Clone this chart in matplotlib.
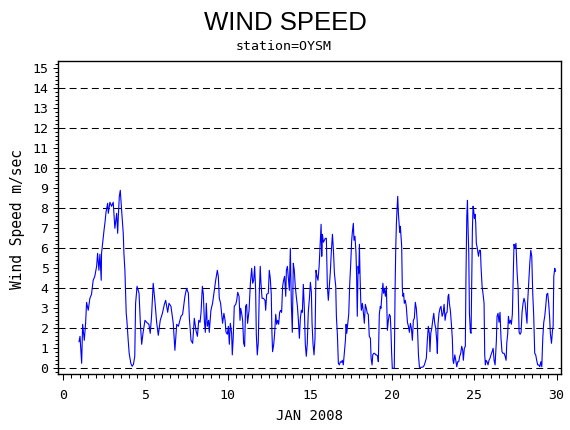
import matplotlib
matplotlib.use("Agg")
import matplotlib.pyplot as plt
from matplotlib.ticker import MultipleLocator

# ---- data (day of month, wind speed m/s) ----
day = [
    0.96, 1.02, 1.12, 1.18, 1.28, 1.36, 1.42, 1.52, 1.62, 1.72, 1.82, 1.92, 2.03, 2.09,
    2.17, 2.23, 2.31, 2.33, 2.40, 2.48, 2.54, 2.60, 2.70, 2.74, 2.84, 2.94, 3.04, 3.14,
    3.25, 3.31, 3.35, 3.41, 3.47, 3.55, 3.65, 3.69, 3.75, 3.79, 3.83, 3.87, 3.95, 4.01,
    4.11, 4.19, 4.27, 4.35, 4.40, 4.49, 4.61, 4.69, 4.77, 4.85, 4.97, 5.07, 5.21, 5.29,
    5.37, 5.47, 5.57, 5.68, 5.78, 5.90, 6.03, 6.15, 6.23, 6.35, 6.43, 6.55, 6.69, 6.79,
    6.90, 7.00, 7.16, 7.26,
    7.40, 7.50, 7.61, 7.67, 7.77, 7.87, 7.97, 8.07, 8.16, 8.24, 8.32, 8.38, 8.46, 8.52,
    8.58, 8.64, 8.70, 8.76, 8.84, 8.88, 8.98, 9.08, 9.16, 9.27, 9.37, 9.43, 9.49,
    9.57, 9.63, 9.69, 9.77, 9.84, 9.90, 9.98, 10.04, 10.10, 10.16, 10.24, 10.28, 10.34,
    10.40, 10.49, 10.55, 10.61, 10.69, 10.75, 10.79, 10.85, 10.91, 10.97, 11.03, 11.09,
    11.15, 11.21, 11.30, 11.38, 11.46, 11.52, 11.58, 11.64, 11.70, 11.74, 11.80, 11.86,
    11.92, 11.98, 12.02, 12.09, 12.17, 12.27, 12.31, 12.37, 12.47, 12.53, 12.59, 12.65,
    12.69, 12.73, 12.80, 12.86, 12.92, 12.98, 13.04, 13.10, 13.16, 13.22, 13.28, 13.34,
    13.40, 13.46, 13.53, 13.57, 13.63, 13.69, 13.75, 13.81, 13.87, 13.93, 13.99, 14.05,
    14.11, 14.17, 14.24, 14.30, 14.36, 14.42, 14.48, 14.54, 14.60, 14.66, 14.72, 14.78,
    14.84, 14.90, 14.97, 15.03, 15.09, 15.13, 15.19, 15.25, 15.31, 15.37, 15.43, 15.49,
    15.56, 15.62, 15.68, 15.72, 15.76, 15.82, 15.88, 15.94, 16.00, 16.06, 16.12, 16.18,
    16.24, 16.30, 16.37, 16.43, 16.49,
    16.57, 16.61, 16.67, 16.73, 16.79, 16.85, 16.91, 16.97, 17.03, 17.09, 17.16, 17.20,
    17.24, 17.30, 17.36, 17.42, 17.48, 17.54, 17.58, 17.64, 17.68, 17.74, 17.80, 17.84,
    17.88, 17.93, 17.97, 18.01, 18.05, 18.09, 18.13, 18.19, 18.25, 18.31, 18.37, 18.43,
    18.49, 18.55, 18.61, 18.68, 18.72, 18.78, 18.82, 18.88, 18.94, 19.00, 19.06, 19.12,
    19.16, 19.22, 19.28, 19.32, 19.38, 19.44, 19.48, 19.53, 19.59, 19.65, 19.71, 19.77,
    19.83, 19.89, 19.93, 19.97, 20.01, 20.07, 20.13, 20.18, 20.22, 20.26, 20.30, 20.34,
    20.38, 20.42, 20.46, 20.50, 20.54, 20.58, 20.62, 20.66, 20.70, 20.74, 20.80, 20.86,
    20.93, 20.99, 21.05, 21.11, 21.17, 21.23, 21.29, 21.35, 21.41, 21.47, 21.53, 21.60,
    21.66, 21.74, 21.82, 21.90, 21.96, 22.02, 22.08, 22.14, 22.20, 22.26, 22.30, 22.35,
    22.41, 22.47, 22.53, 22.59, 22.65, 22.71, 22.75, 22.79, 22.85, 22.91, 22.97, 23.04,
    23.10, 23.16, 23.22, 23.28, 23.34, 23.40, 23.44, 23.48,
    23.54, 23.60, 23.66, 23.70, 23.74, 23.81, 23.87, 23.93, 23.99, 24.05, 24.11, 24.17,
    24.23, 24.29, 24.33, 24.39, 24.45, 24.49, 24.54, 24.58, 24.62, 24.66, 24.70, 24.76,
    24.80, 24.84, 24.88, 24.92, 24.96, 25.00, 25.04, 25.08, 25.12, 25.18, 25.25, 25.31,
    25.37, 25.41, 25.47, 25.53, 25.59, 25.63, 25.67, 25.71, 25.77, 25.83, 25.89, 25.95,
    26.01, 26.08, 26.14, 26.20, 26.26, 26.30, 26.34, 26.38, 26.44, 26.50, 26.56, 26.62,
    26.68, 26.74, 26.81, 26.87, 26.93, 26.97, 27.03, 27.07, 27.13, 27.19, 27.25, 27.31,
    27.35, 27.41, 27.47, 27.53, 27.60, 27.66, 27.72, 27.78, 27.84, 27.90, 27.96, 28.02,
    28.08, 28.14, 28.20, 28.24, 28.31, 28.37, 28.43, 28.49, 28.55, 28.61, 28.67, 28.73,
    28.79, 28.85, 28.91, 28.98, 29.04, 29.10, 29.16, 29.22, 29.28, 29.34, 29.40, 29.46,
    29.52, 29.58, 29.62, 29.69, 29.75, 29.79, 29.83, 29.89, 29.93,
]
speed = [
    1.33, 1.6, 0.25, 2.2, 1.4, 2.25, 3.3, 2.9, 3.5, 3.7, 4.4, 4.6, 5.1, 5.75,
    4.9, 5.7, 4.4, 5.75, 6.3, 6.9, 7.3, 7.8, 8.25, 7.75, 8.3, 8.1, 8.3, 7.0,
    7.75, 6.75, 7.6, 8.6, 8.9, 7.9, 6.75, 5.75, 4.9, 3.9, 2.75, 2.4, 1.4, 0.75,
    0.25, 0.1, 0.2, 0.6, 3.25, 4.1, 3.75, 2.25, 1.2, 1.75, 2.4, 2.3, 2.2, 1.75,
    2.6, 4.25, 3.4, 2.3, 1.65, 2.4, 2.75, 3.2, 3.4, 2.8, 3.25, 3.1, 2.25, 0.9,
    2.2, 2.1, 2.6, 2.7,
    3.6, 4.0, 3.75, 2.5, 1.4, 1.25, 2.5, 1.9, 1.6, 2.4, 2.3, 2.8, 4.1, 3.7,
    2.4, 1.8, 3.25, 2.1, 2.4, 1.8, 2.9, 3.25, 3.75, 4.4, 4.9, 4.6, 3.5,
    3.25, 2.75, 2.25, 2.75, 2.4, 1.8, 1.7, 2.1, 1.2, 2.25, 1.75, 0.67, 1.6,
    3.1, 3.2, 3.4, 3.8, 3.6, 2.4, 3.0, 2.75, 2.4, 1.25, 1.1, 3.1,
    3.2, 2.25, 2.9, 4.25, 5.0, 4.25, 4.4, 5.1, 3.9, 1.7, 0.67, 1.3,
    3.7, 5.1, 4.3, 3.5, 3.5, 3.4, 2.9, 3.7, 3.75, 4.9, 4.5, 3.7,
    1.8, 0.83, 1.2, 1.8, 2.7, 2.2, 2.4, 2.2, 2.8, 2.9, 2.8, 4.1,
    4.4, 4.6, 3.6, 4.9, 5.1, 4.5, 3.9, 6.0, 3.25, 1.8, 5.25, 4.9,
    4.1, 3.6, 3.1, 2.4, 1.5, 2.5, 2.9, 2.8, 4.2, 3.0, 1.2, 0.6,
    1.25, 2.8, 3.5, 4.3, 3.8, 2.25, 1.2, 0.67, 1.5, 4.9, 4.6, 4.4,
    5.1, 6.1, 7.2, 5.6, 6.7, 6.3, 6.4, 6.5, 6.5, 4.1, 3.4, 4.1,
    4.8, 5.8, 6.7, 5.9, 4.75,
    4.1, 2.6, 1.7, 0.25, 0.17, 0.33, 0.3, 0.4, 0.17, 0.75, 1.4, 2.2,
    1.75, 2.2, 2.7, 4.2, 5.2, 6.4, 6.8, 7.25, 6.4, 6.6, 5.8, 4.6,
    2.6, 5.1, 4.75, 6.2, 4.6, 3.4, 2.9, 3.25, 2.8, 2.25, 3.2, 3.0,
    2.75, 2.7, 1.6, 1.5, 0.5, 0.17, 0.67, 0.75, 0.75, 0.67, 0.67, 0.6,
    0.33, 2.7, 3.1, 3.0, 3.7, 4.25, 3.75, 4.0, 3.6, 4.1, 1.9, 2.4,
    2.7, 2.6, 1.8, 0.75, 0.0, 0.0, 0.0, 4.0, 6.0, 7.25, 8.0, 8.6,
    7.75, 7.3, 6.8, 7.1, 6.6, 6.1, 4.0, 3.6, 3.75, 3.25, 3.4, 3.1,
    2.3, 2.1, 1.8, 2.25, 2.0, 1.4, 2.4, 2.5, 3.3, 3.0, 2.3, 0.67,
    0.05, 0.05, 0.05, 0.08, 0.17, 0.33, 0.5, 1.4, 2.1, 1.75, 0.83, 1.75,
    2.0, 2.4, 2.75, 2.25, 2.0, 1.4, 0.75, 2.2, 2.75, 3.0, 3.1, 2.6,
    2.75, 3.2, 2.4, 2.75, 2.8, 3.6, 3.7, 3.25,
    2.9, 2.25, 1.5, 0.4, 0.25, 0.67, 0.4, 0.08, 0.33, 0.33, 0.6, 0.75,
    1.1, 0.9, 0.4, 1.0, 1.1, 4.6, 7.6, 8.4, 6.9, 5.75, 2.75, 1.8,
    1.75, 4.4, 6.9, 8.1, 7.9, 7.5, 7.7, 7.3, 6.25, 6.0, 5.6, 5.9,
    5.9, 5.0, 4.1, 3.7, 3.25, 0.67, 0.17, 0.4, 0.33, 0.17, 0.4, 0.5,
    0.67, 0.83, 1.0, 0.4, 0.17, 0.75, 1.4, 2.6, 2.75, 2.3, 2.8, 1.5,
    0.83, 0.75, 0.75, 0.6, 0.4, 1.25, 1.75, 2.6, 2.25, 2.4, 2.2, 2.7,
    4.1, 6.2, 6.0, 6.25, 4.75, 4.0, 1.8, 1.7, 1.8, 2.8, 3.25, 3.5,
    3.3, 2.75, 2.25, 3.3, 4.4, 5.25, 5.9, 5.6, 3.75, 2.6, 0.75, 0.67,
    0.4, 0.17, 0.17, 0.08, 0.33, 0.08, 1.5, 2.3, 2.6, 3.1, 3.7, 3.75,
    3.25, 2.5, 1.75, 1.25, 1.9, 2.1, 4.6, 5.0, 4.85,
]

x_ticks = [0, 5, 10, 15, 20, 25, 30]
y_ticks = list(range(0, 16))
grid_levels = [0, 2, 4, 6, 8, 10, 12, 14]

title = "WIND SPEED"
subtitle = "station=OYSM"
x_label = "JAN 2008"
y_label = "Wind Speed m/sec"

# ---- figure ----
plt.rcParams["lines.scale_dashes"] = False
W, H = 570, 430
fig = plt.figure(figsize=(W / 100, H / 100), dpi=100)
fig.patch.set_facecolor("white")

left, right, top, bottom = 58.3, 560.7, 61.0, 373.5
ax = fig.add_axes([left / W, 1 - bottom / H, (right - left) / W, (bottom - top) / H])
ax.set_xlim(-0.30, 30.25)
ax.set_ylim(-0.26, 15.365)

for g in grid_levels:
    ax.axhline(g, color="black", lw=0.75, dashes=(5.0, 3.0), zorder=1)

ax.plot(day, speed, color="#0000ff", lw=0.8, zorder=3)

mono = "DejaVu Sans Mono"
ax.set_xticks(x_ticks)
ax.set_yticks(y_ticks)
ax.xaxis.set_minor_locator(MultipleLocator(0.5))
ax.yaxis.set_minor_locator(MultipleLocator(0.2))
ax.tick_params(axis="x", which="major", direction="out", length=4.3, width=0.75,
               pad=7.0, labelsize=9.5)
ax.tick_params(axis="x", which="minor", direction="out", length=2.6, width=0.75)
ax.tick_params(axis="y", which="major", direction="out", length=3.6, width=0.75,
               pad=3.4, labelsize=9.5)
ax.tick_params(axis="y", which="minor", direction="out", length=2.0, width=0.75)
for lab in ax.get_xticklabels() + ax.get_yticklabels():
    lab.set_family(mono)
ax.tick_params(top=False, right=False, which="both")
for s in ax.spines.values():
    s.set_linewidth(1.0)
    s.set_color("black")

fig.text(285 / W, 1 - 30 / H, title, ha="center", va="baseline",
         family="Liberation Sans", fontsize=18.5, color="black")
fig.text(284 / W, 1 - 47 / H, subtitle, ha="center", va="center",
         family=mono, fontsize=9.5, color="black")
fig.text(310 / W, 1 - 416 / H, x_label, ha="center", va="center",
         family=mono, fontsize=10, color="black")
fig.text(17.5 / W, 1 - 219 / H, y_label, ha="center", va="center", rotation=90,
         family=mono, fontsize=10.5, color="black")

fig.savefig("out.png", dpi=100)
